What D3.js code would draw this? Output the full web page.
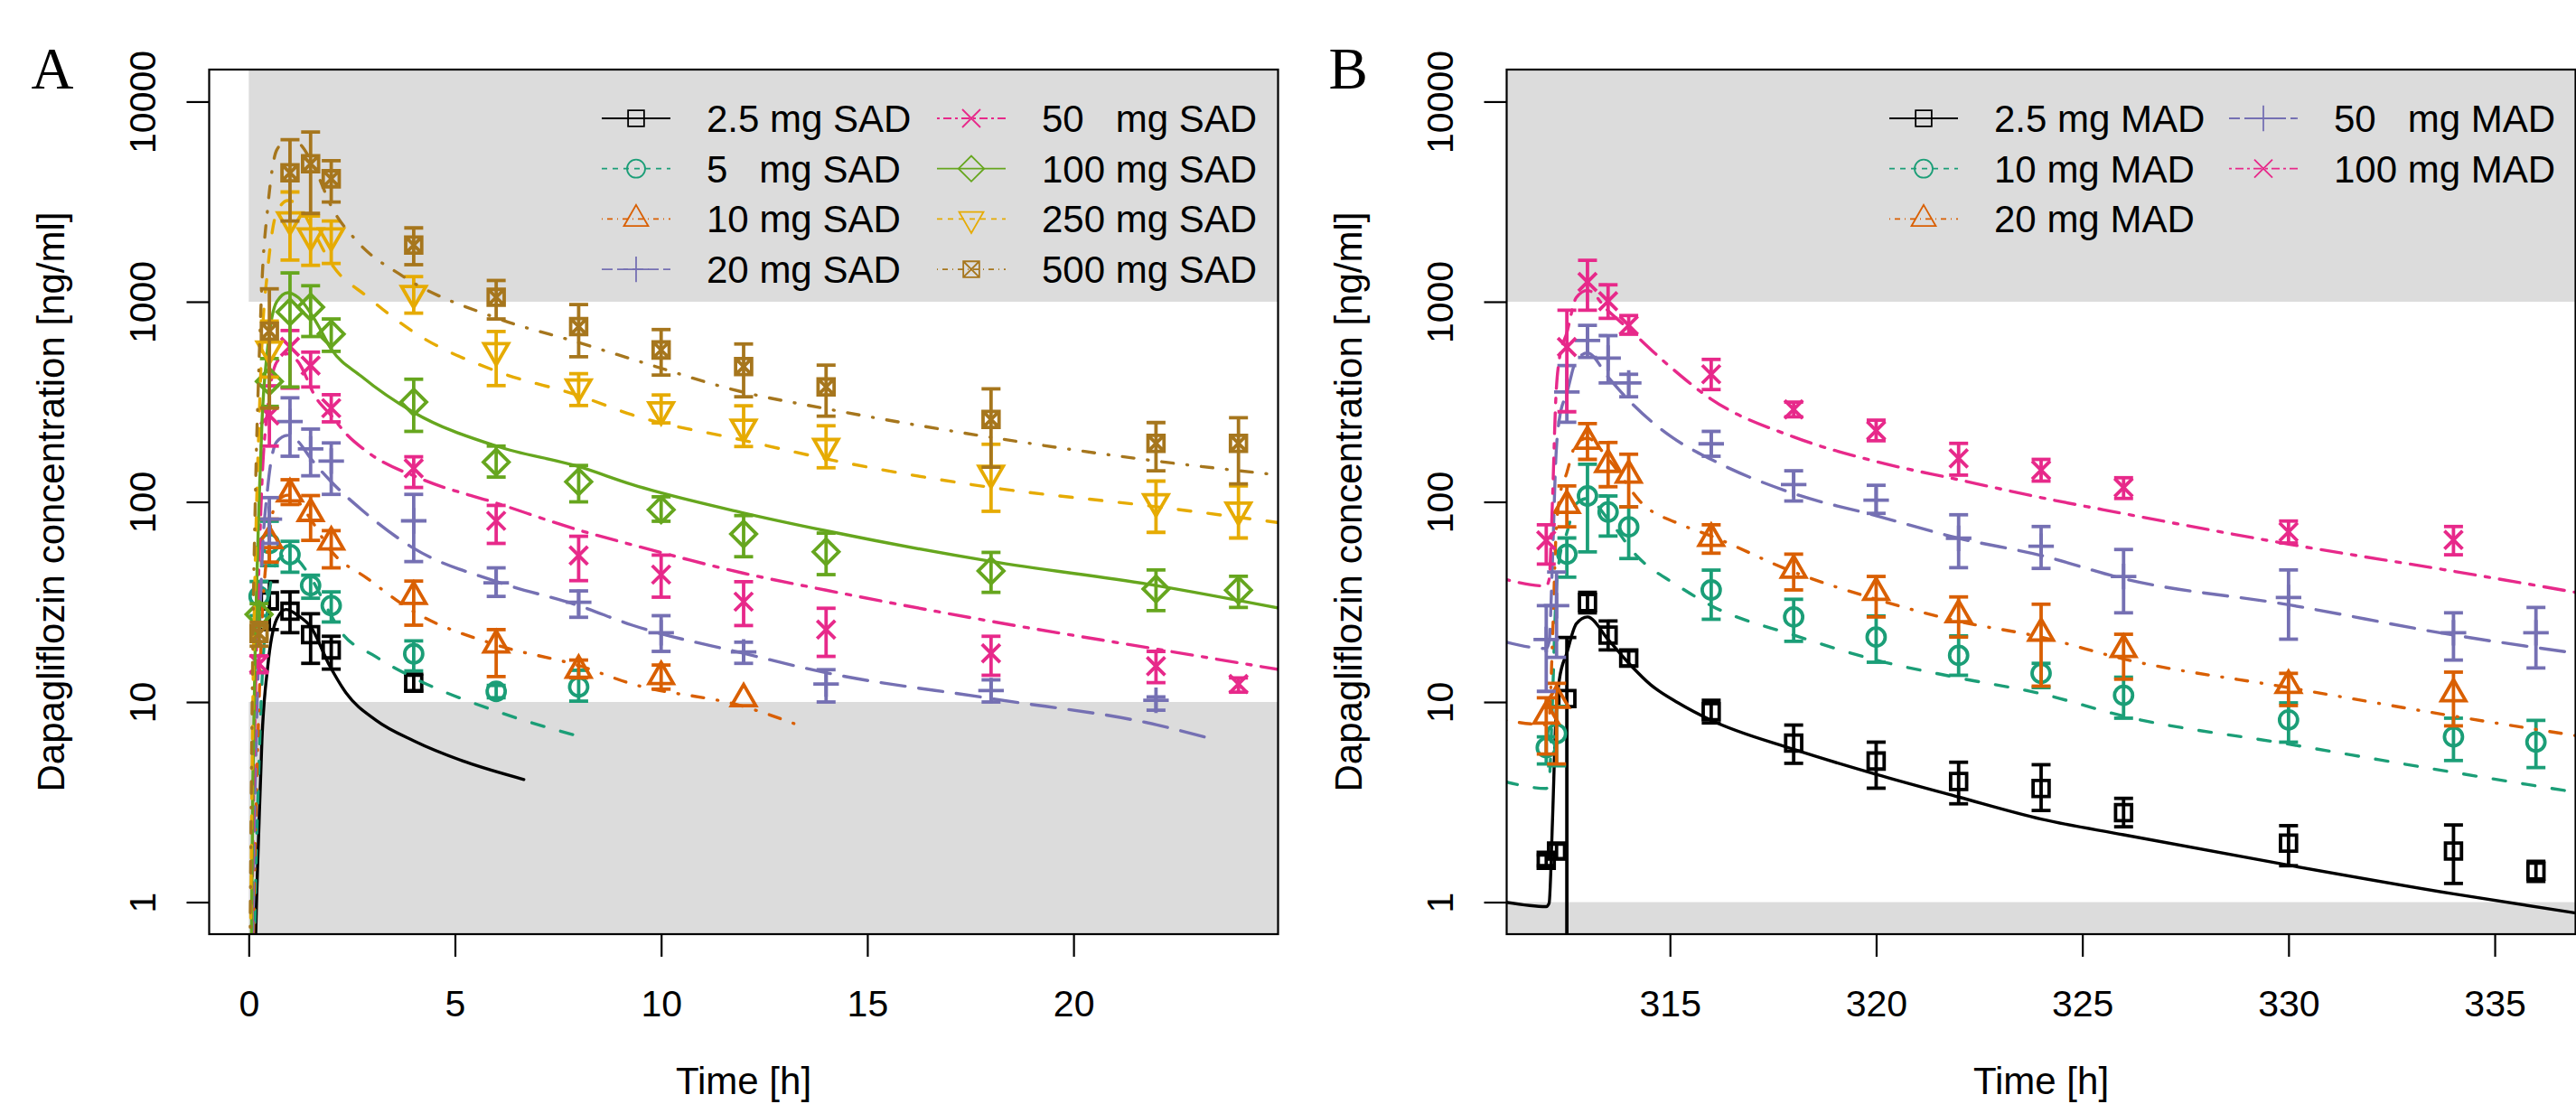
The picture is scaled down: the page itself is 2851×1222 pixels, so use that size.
<!DOCTYPE html>
<html>
<head>
<meta charset="utf-8">
<script src="https://cdn.jsdelivr.net/npm/d3@7"></script>
<style>
    body { margin: 0; background: #fff; }
    svg text { font-family: "Liberation Sans", Arial, sans-serif; white-space: pre; }
</style>
</head>
<body>
<svg id="chart" width="2851" height="1222"></svg>
<script>
// axis limits and ticks
const sadXlim = [0, 24];
const madXlim = [312, 336];
const concLim = [1, 10000];
const sadTicks = [0, 5, 10, 15, 20];
const madTicks = [315, 320, 325, 330, 335];
const concTicks = [1, 10, 100, 1000, 10000];
const concTickLabels = ["1", "10", "100", "1000", "10000"];

// quantification limits (shaded outside) [lower, upper]
const sadLimits = [10, 1000];
const madLimits = [1, 1000];

const sadLabels = ["2.5 mg SAD", "5   mg SAD", "10 mg SAD", "20 mg SAD", "50   mg SAD", "100 mg SAD", "250 mg SAD", "500 mg SAD"];
const madLabels = ["2.5 mg MAD", "10 mg MAD", "20 mg MAD", "50   mg MAD", "100 mg MAD"];
const sadColors = ["#000000", "#1B9E77", "#D95F02", "#7570B3", "#E7298A", "#66A61E", "#E6AB02", "#A6761D"];
const madColors = ["#000000", "#1B9E77", "#D95F02", "#7570B3", "#E7298A"];
const sadPch = [0, 1, 2, 3, 4, 5, 6, 7];
const madPch = [0, 1, 2, 3, 4];
const sadLty = ["solid", "dashed", "dotdash", "longdash", "twodash", "solid", "dashed", "dotdash"];
const madLty = ["solid", "dashed", "dotdash", "longdash", "twodash"];

// observed: [time h, mean, lower, upper]
const sadObs2p5 = [[0.5,32,23,40],[1,28.4,22.2,35.5],[1.5,21.7,15.6,27.6],[2,18.2,14.6,21.3],[4,12.4,11.4,13.8]];
const sadObs5 = [[0.25,33.7,27,40],[0.5,62,48,80],[1,54.5,44.5,63.5],[1.5,38.2,33,43],[2,30.3,25.1,35.5],[4,17.4,14.3,20.2],[6,11.3,10.5,12.1],[8,11.9,10.1,14.4]];
const sadObs10 = [[0.5,64,50,82],[1,109.6,97,129],[1.5,87.6,64.2,107.5],[2,63.1,46.8,71.8],[4,33.7,24.2,40.2],[6,19.3,13.4,23],[8,14.4,13.2,16.2],[10,13.4,11.6,15.3],[12,10.4,10.4,10.4]];
const sadObs20 = [[0.5,82,62,105],[1,252,169,331],[1.5,184,135,231],[2,160,109,197],[4,80.4,50.3,109],[6,39.4,33.7,46.8],[8,31.5,26.5,35.9],[10,22.2,17.9,27],[12,17.8,15.6,19.9],[14,12.3,10,14.5],[18,11.4,10,12.9],[22,10.2,9.1,10.6]];
const sadObs50 = [[0.25,15.5,14,17],[0.5,270,190,380],[1,595,370,718],[1.5,480,375,560],[2,294,251,343],[4,147,118,168],[6,80.4,62,96],[8,53.9,40.4,67.3],[10,43.3,33.4,54.2],[12,31.7,24.1,39.9],[14,23,16.9,29.4],[18,17.5,13.6,21.3],[22,15.1,12.5,17.9],[24,12.3,11.2,13.2]];
const sadObs100 = [[0.25,27.4,24,31],[0.5,400,300,520],[1,889,375,1393],[1.5,940,670,1202],[2,690,565,820],[4,315,225,410],[6,158,133,190],[8,126,100,152],[10,91.3,80,106],[12,69.1,53.2,85.4],[14,56.3,43.3,69.8],[18,45.2,35.3,55.9],[22,36.7,28.6,45.7],[24,36.2,29.7,42.5]];
const sadObs250 = [[0.5,580,420,800],[1,2566,1615,3535],[1.5,2133,1520,2680],[2,2133,1553,2530],[4,1100,877,1335],[6,569,381,710],[8,375,303,437],[10,288,248,342],[12,236,189,302],[14,189,148,240],[18,139,89.7,194],[22,100,70.4,127],[24,91,66,120]];
const sadObs500 = [[0.25,22,19,25],[0.5,713,294,1160],[1,4406,2530,6457],[1.5,4895,2761,7045],[2,4115,3148,5070],[4,1919,1531,2338],[6,1052,820,1277],[8,751,531,968],[10,574,430,726],[12,474,335,615],[14,375,268,482],[18,258,149,367],[22,196,143,249],[24,196,123,263]];

// model predictions: [time h, concentration]
const sadFit2p5 = [[0.1,0.1],[0.17,0.7],[0.25,2.5],[0.32,6.5],[0.46,15],[0.68,26],[0.9,29],[1.2,27],[1.5,23.8],[1.96,15.2],[2.36,11.1],[3.09,8.1],[4,6.4],[5.28,5],[6.67,4.1]];
const sadFit5 = [[0.1,0.2],[0.17,1.3],[0.25,5],[0.32,12.5],[0.46,30],[0.68,50],[0.95,55],[1.2,51],[1.5,42],[2,27],[2.2,23],[3.09,16.8],[4,13.2],[6,9],[8.17,6.6]];
const sadFit10 = [[0.02,0.006],[0.1,0.4],[0.17,2.6],[0.25,10],[0.32,25],[0.46,59],[0.68,100],[0.95,108],[1.2,100],[1.5,82],[2,56.8],[2.87,41.5],[4,28.3],[6,19.3],[8,15.2],[9.3,12.3],[12,9.5],[13.3,7.7]];
const sadFit20 = [[0.02,0.012],[0.1,0.8],[0.17,5.2],[0.25,20],[0.32,50],[0.46,118],[0.68,200],[0.95,215],[1.2,200],[1.5,165],[2,126],[2.73,91.6],[4,58.6],[6,40],[8,30.3],[9.3,24.2],[12,17.5],[14,14],[18,10.4],[22,7.7],[23.4,6.5]];
const sadFit50 = [[0.02,0.03],[0.1,2],[0.17,13],[0.25,50],[0.32,125],[0.46,295],[0.68,500],[0.95,550],[1.2,500],[1.63,331],[2,270],[2.36,219],[2.87,178],[4.19,130],[6,98.7],[8,72.3],[9.3,61],[12,44],[14,36.2],[18,25.3],[22,18.4],[25,14.5]];
const sadFit100 = [[0.02,0.06],[0.1,4],[0.17,26],[0.25,100],[0.32,250],[0.46,590],[0.68,1000],[0.95,1110],[1.2,1050],[1.63,795],[2,580],[2.73,424],[4,280],[6,190],[8,150],[9.3,122],[12,88],[14,71.7],[18,50.4],[22,38.2],[25,29.4]];
const sadFit250 = [[0.02,0.15],[0.1,10],[0.17,65],[0.25,250],[0.32,620],[0.46,1450],[0.68,2800],[0.95,3200],[1.2,3050],[1.5,2400],[2,1550],[2.9,1050],[4,705],[6,450],[8,340],[9.3,272],[12,203],[14,164],[18,118],[22,94.6],[25,78.6]];
const sadFit500 = [[0.02,0.3],[0.1,20],[0.17,130],[0.25,500],[0.32,1240],[0.46,2950],[0.68,5740],[0.95,6450],[1.2,6230],[1.63,4490],[2,3000],[2.63,2000],[3.74,1340],[6,830],[8,625],[9.3,516],[12,353],[14,292],[18,210],[22,160],[25,136]];

const madObs2p5 = [[312,1.62,1.52,1.72],[312.25,1.8,1.65,1.95],[312.5,10.4,0.01,21],[313,31.4,27.9,35.3],[313.5,21.6,18.2,25.4],[314,16.6,15.1,18],[316,8.95,7.86,10.2],[318,6.23,4.94,7.67],[320,5.07,3.71,6.3],[322,4.01,3.1,5],[324,3.7,2.87,4.86],[326,2.8,2.38,3.3],[330,1.97,1.52,2.41],[334,1.8,1.24,2.43],[336,1.43,1.27,1.6]];
const madObs10 = [[312,5.92,4.9,6.7],[312.25,6.95,4.8,9.5],[312.5,54.8,42,66],[313,107,56.2,154],[313.5,89,67.5,107],[314,75,52.1,94.4],[316,36.3,25.9,45.6],[318,26.6,20.1,32.6],[320,21.1,15.8,26.9],[322,17.1,13.6,21.4],[324,13.9,11.8,15.6],[326,10.8,8.3,13.3],[330,8.14,6.3,9.9],[334,6.7,5.1,8.3],[336,6.31,4.7,8.1]];
const madObs20 = [[312,8.5,5.5,10.5],[312.25,10.2,4.9,12.4],[312.5,96,75,120],[313,201,163,246],[313.5,154,119,198],[314,136,94.4,173],[316,65.8,55.4,76.8],[318,45.6,36.3,54.8],[320,35.3,26.6,42.4],[322,27.3,21.1,33.5],[324,22.1,12,30.8],[326,18.3,13,21.8],[330,12.1,9.6,13.9],[334,11,7.6,14.1]];
const madObs50 = [[312,20.5,11.3,30.3],[312.25,30.3,16.7,44.6],[312.5,354,250,480],[313,640,527,762],[313.5,523,393,677],[314,393,335,434],[316,195,169,225],[318,122,101,143],[320,102,87.6,121],[322,65.8,46.9,86.2],[324,60,46.5,75.3],[326,42.4,27.9,57.8],[330,33.3,20.6,45.7],[334,22.2,16.2,27.9],[336,22.2,14.8,29.7]];
const madObs100 = [[312,64.2,48.9,76.8],[312.5,594,282,907],[313,1254,907,1612],[313.5,1007,826,1215],[314,762,688,853],[316,434,364,515],[318,290,266,315],[320,227,202,256],[322,165,136,196],[324,144,127,163],[326,118,104,132],[330,70.8,62.3,80.2],[334,64.5,54.4,75.3]];

const madFit2p5 = [[311,1],[312,0.95],[312.07,0.99],[312.15,2.5],[312.23,8],[312.32,13],[312.5,17.6],[312.73,24.6],[313,26.6],[313.5,20.5],[314.03,15.4],[314.53,12.2],[315.2,9.9],[316,8.1],[318,5.8],[320,4.35],[322,3.35],[324,2.6],[326,2.17],[330,1.53],[334,1.1],[337,0.88]];
const madFit10 = [[311,4],[312,3.7],[312.07,4],[312.15,10],[312.23,32],[312.32,52],[312.5,70],[312.73,98],[313,104],[313.5,82],[314.2,53.6],[315.2,38],[316,30.3],[318,21.6],[320,16.2],[322,13.2],[324,11],[326,8.5],[330,6.16],[334,4.45],[337,3.53]];
const madFit20 = [[311,8.1],[312,7.7],[312.07,8.2],[312.15,20],[312.23,64],[312.32,104],[312.5,140],[312.73,196],[313,208],[313.5,164],[314.36,96.6],[315.2,78],[316,67.5],[318,44.6],[320,32.6],[322,25.3],[324,21.1],[326,16.4],[330,11.8],[334,8.5],[337,6.77]];
const madFit50 = [[311,20],[312,18.5],[312.07,20],[312.15,50],[312.23,160],[312.32,260],[312.5,350],[312.73,510],[313,555],[313.5,420],[314.03,317],[315.04,211],[316,163],[318,110],[320,85.3],[322,65.8],[324,54],[326,41.3],[330,30.6],[334,21.6],[337,17.5]];
const madFit100 = [[311,41],[312,38],[312.07,41],[312.15,100],[312.23,320],[312.32,520],[312.5,700],[312.73,1050],[313,1140],[313.5,900],[314,730],[314.95,484],[316,326],[318,211],[320,159],[322,129],[324,105],[326,87.4],[330,61.5],[334,45],[337,35.2]];

const sadObs = [sadObs2p5, sadObs5, sadObs10, sadObs20, sadObs50, sadObs100, sadObs250, sadObs500];
const sadFit = [sadFit2p5, sadFit5, sadFit10, sadFit20, sadFit50, sadFit100, sadFit250, sadFit500];
const madObs = [madObs2p5, madObs10, madObs20, madObs50, madObs100];
const madFit = [madFit2p5, madFit10, madFit20, madFit50, madFit100];


const svg = d3.select('#chart');
const plotTop = 77, plotBottom = 1034;
const shade = '#dcdcdc';
const R = 10;   // symbol radius, like R's pch sizes

const dashes = {
    solid: null,
    dashed: [14, 19],
    dotdash: [1, 15, 13, 15],
    longdash: [27, 15],
    twodash: [5, 11, 23, 11]
};
const legendDashes = {
    solid: null,
    dashed: [6, 6],
    dotdash: [1, 5, 6, 5],
    longdash: [12, 5],
    twodash: [3, 4, 9, 4]
};

const extend = l => {
    const d = (l[1] - l[0]) * 0.04;
    return [l[0] - d, l[1] + d];
};
const extendLog = l => {
    const a = Math.log10(l[0]), b = Math.log10(l[1]), d = (b - a) * 0.04;
    return [Math.pow(10, a - d), Math.pow(10, b + d)];
};

const symbolPath = pch => {
    const s = R * 0.886, t = R * 1.5551, tx = R * 1.3468, ty = R * 0.7776, q = R * Math.SQRT2;
    switch (pch) {
        case 0: return `M${-s},${-s}H${s}V${s}H${-s}Z`;
        case 1: return `M${R},0A${R},${R} 0 1,1 ${-R},0A${R},${R} 0 1,1 ${R},0Z`;
        case 2: return `M0,${-t}L${tx},${ty}L${-tx},${ty}Z`;
        case 3: return `M${-q},0H${q}M0,${-q}V${q}`;
        case 4: return `M${-R},${-R}L${R},${R}M${-R},${R}L${R},${-R}`;
        case 5: return `M${-q},0L0,${-q}L${q},0L0,${q}Z`;
        case 6: return `M0,${t}L${tx},${-ty}L${-tx},${-ty}Z`;
        case 7: return `M${-s},${-s}H${s}V${s}H${-s}Z M${-s},${-s}L${s},${s}M${-s},${s}L${s},${-s}`;
    }
};

const drawPanel = p => {
    const x = d3.scaleLinear().domain(extend(p.xlim)).range([p.left, p.right]);
    const y = d3.scaleLog().domain(extendLog(concLim)).range([plotBottom, plotTop]);

    svg.append('clipPath').attr('id', 'clip-' + p.id)
        .append('rect')
        .attr('x', p.left).attr('y', plotTop)
        .attr('width', p.right - p.left).attr('height', plotBottom - plotTop);

    const inner = svg.append('g').attr('clip-path', `url(#clip-${p.id})`);

    // grey zones outside the quantification range
    const x0 = Math.max(p.left, x(p.shadeFrom));
    inner.append('rect')
        .attr('x', x0).attr('y', plotTop)
        .attr('width', p.right - x0).attr('height', y(p.limits[1]) - plotTop)
        .attr('fill', shade);
    inner.append('rect')
        .attr('x', x0).attr('y', y(p.limits[0]))
        .attr('width', p.right - x0).attr('height', plotBottom - y(p.limits[0]))
        .attr('fill', shade);

    const line = d3.line()
        .x(d => x(d[0]))
        .y(d => y(d[1]))
        .curve(d3.curveMonotoneX);

    p.obs.forEach((obs, i) => {
        const color = p.colors[i];
        const g = inner.append('g').attr('stroke', color).attr('fill', 'none');

        g.append('path')
            .attr('d', line(p.fit[i]))
            .attr('stroke-width', 3.4)
            .attr('stroke-linecap', 'round')
            .attr('stroke-dasharray', dashes[p.lty[i]]);

        const bars = g.selectAll('.bar')
            .data(obs.filter(d => d[3] > d[2]))
            .enter()
            .append('g')
            .attr('stroke-width', 3.8);
        bars.append('line')
            .attr('x1', d => x(d[0])).attr('x2', d => x(d[0]))
            .attr('y1', d => y(d[2])).attr('y2', d => y(d[3]));
        bars.append('line')
            .attr('x1', d => x(d[0]) - 10.5).attr('x2', d => x(d[0]) + 10.5)
            .attr('y1', d => y(d[2])).attr('y2', d => y(d[2]));
        bars.append('line')
            .attr('x1', d => x(d[0]) - 10.5).attr('x2', d => x(d[0]) + 10.5)
            .attr('y1', d => y(d[3])).attr('y2', d => y(d[3]));

        g.selectAll('.pt')
            .data(obs)
            .enter()
            .append('path')
            .attr('transform', d => `translate(${x(d[0])},${y(d[1])})`)
            .attr('d', symbolPath(p.pch[i]))
            .attr('stroke-width', 3.8);
    });

    // box
    svg.append('rect')
        .attr('x', p.left).attr('y', plotTop)
        .attr('width', p.right - p.left).attr('height', plotBottom - plotTop)
        .attr('fill', 'none').attr('stroke', '#000').attr('stroke-width', 2.2);

    const xAxis = svg.append('g')
        .attr('transform', `translate(0,${plotBottom})`)
        .call(d3.axisBottom(x).tickValues(p.ticks).tickSize(25).tickPadding(37).tickFormat(d3.format('d')));
    xAxis.select('.domain').remove();
    xAxis.selectAll('line').attr('stroke-width', 2.2);
    xAxis.selectAll('text').attr('font-size', 41).attr('font-family', null).attr('fill', '#000');

    const yAxis = svg.append('g')
        .attr('transform', `translate(${p.left},0)`)
        .call(d3.axisLeft(y).tickValues(concTicks).tickSize(25).tickFormat((d, i) => concTickLabels[i]));
    yAxis.select('.domain').remove();
    yAxis.selectAll('line').attr('stroke-width', 2.2);
    yAxis.selectAll('text')
        .attr('x', 0).attr('y', 0).attr('dy', 0)
        .attr('transform', 'translate(-60,0) rotate(-90)')
        .attr('text-anchor', 'middle')
        .attr('font-size', 41).attr('font-family', null).attr('fill', '#000');

    // axis titles and panel letter
    svg.append('text')
        .attr('transform', `translate(${p.left - 161},${(plotTop + plotBottom) / 2}) rotate(-90)`)
        .attr('text-anchor', 'middle')
        .attr('font-size', 42)
        .text('Dapagliflozin concentration [ng/ml]');
    svg.append('text')
        .attr('x', (p.left + p.right) / 2).attr('y', 1211)
        .attr('text-anchor', 'middle')
        .attr('font-size', 42)
        .text('Time [h]');
    svg.append('text')
        .attr('x', p.left - 197).attr('y', 98)
        .attr('font-size', 65)
        .style('font-family', '"Liberation Serif", "Times New Roman", serif')
        .text(p.letter);

    // legend (column-major, no box)
    const lg = svg.append('g');
    p.labels.forEach((label, i) => {
        const col = Math.floor(i / p.legendRows), row = i % p.legendRows;
        const cx = p.legendCols[col], cy = 131 + row * 55.7;
        lg.append('line')
            .attr('x1', cx).attr('x2', cx + 76)
            .attr('y1', cy).attr('y2', cy)
            .attr('stroke', p.colors[i]).attr('stroke-width', 1.8)
            .attr('stroke-dasharray', legendDashes[p.lty[i]]);
        lg.append('path')
            .attr('transform', `translate(${cx + 38},${cy})`)
            .attr('d', symbolPath(p.pch[i]))
            .attr('fill', 'none').attr('stroke', p.colors[i]).attr('stroke-width', 1.8);
        lg.append('text')
            .attr('x', cx + 116).attr('y', cy + 15)
            .attr('font-size', 42)
            .text(label);
    });
};

drawPanel({
    id: 'sad', letter: 'A', left: 231.5, right: 1414.5,
    xlim: sadXlim, ticks: sadTicks, limits: sadLimits, shadeFrom: 0,
    obs: sadObs, fit: sadFit, colors: sadColors, pch: sadPch, lty: sadLty,
    labels: sadLabels, legendRows: 4, legendCols: [666, 1037]
});
drawPanel({
    id: 'mad', letter: 'B', left: 1667.5, right: 2850.5,
    xlim: madXlim, ticks: madTicks, limits: madLimits, shadeFrom: 300,
    obs: madObs, fit: madFit, colors: madColors, pch: madPch, lty: madLty,
    labels: madLabels, legendRows: 3, legendCols: [2091, 2467]
});
</script>
</body>
</html>
